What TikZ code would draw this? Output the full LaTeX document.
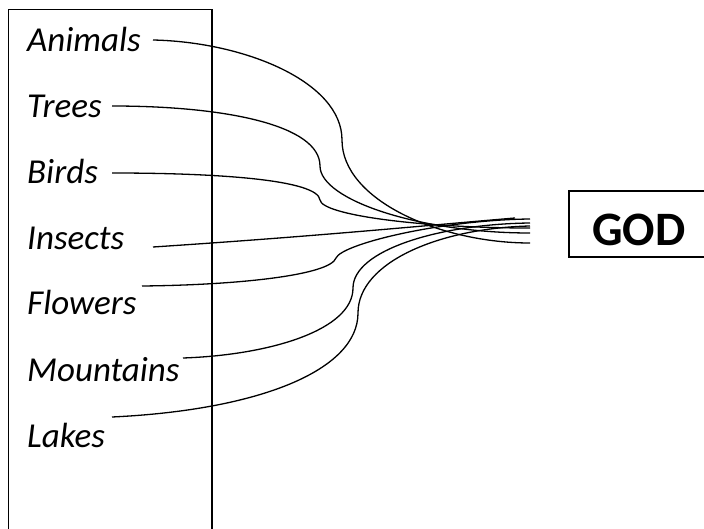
\documentclass[tikz,border=0pt]{standalone}
\usepackage{fontspec}
\setmainfont{Carlito}
\begin{document}
\begin{tikzpicture}[x=1pt,y=-1pt,
  frame/.style={draw=black,line width=1.2pt},
  item/.style={anchor=base west,inner sep=0pt,font=\fontsize{35}{42}\selectfont\itshape},
  title/.style={anchor=base,inner sep=0pt,font=\fontsize{48}{56}\selectfont\bfseries},
  link/.style={draw=black,line width=1.3pt}]
\useasboundingbox (0,0) rectangle (704,529);
\clip (0,0) rectangle (704,529);

% list frame and target frame
\draw[frame] (8.5,9.5) rectangle (212,545);
\draw[frame] (569,191) rectangle (720,257);

% items
\node[item] (animals)   at (27,52)  {Animals};
\node[item] (trees)     at (27,118) {Trees};
\node[item] (birds)     at (27,184) {Birds};
\node[item] (insects)   at (27,250) {Insects};
\node[item] (flowers)   at (27,315) {Flowers};
\node[item] (mountains) at (27,381) {Mountains};
\node[item] (lakes)     at (27,447) {Lakes};
\node[title] (god) at (639,246) {GOD};

% start points of the links
\coordinate (s1) at (153,40);
\coordinate (s2) at (112,106);
\coordinate (s3) at (112,173);
\coordinate (s4) at (153,247);
\coordinate (s5) at (142,286);
\coordinate (s6) at (183,358);
\coordinate (s7) at (112,417);
% loose ends in front of GOD
\coordinate (e1) at (530,243);
\coordinate (e2) at (530,233);
\coordinate (e3) at (530,228);
\coordinate (e4) at (515,218);
\coordinate (e5) at (530,219);
\coordinate (e6) at (530,223);
\coordinate (e7) at (530,226);

\draw[link] (s1) .. controls (245,42) and (342,82) .. (342,140)
                 .. controls (342,200) and (440,243) .. (e1);
\draw[link] (s2) .. controls (225,106) and (320,125) .. (320,166)
                 .. controls (320,200) and (420,233) .. (e2);
\draw[link] (s3) .. controls (220,173) and (318,180) .. (320,200)
                 .. controls (322,215) and (420,228) .. (e3);
\draw[link] (s4) .. controls (320,236) and (420,226) .. (e4);
\draw[link] (s5) .. controls (240,285) and (330,275) .. (336,258)
                 .. controls (342,244) and (440,220) .. (e5);
\draw[link] (s6) .. controls (270,355) and (353,330) .. (353,288)
                 .. controls (353,250) and (440,224) .. (e6);
\draw[link] (s7) .. controls (260,410) and (358,370) .. (358,313)
                 .. controls (358,262) and (440,228) .. (e7);
\end{tikzpicture}
\end{document}
